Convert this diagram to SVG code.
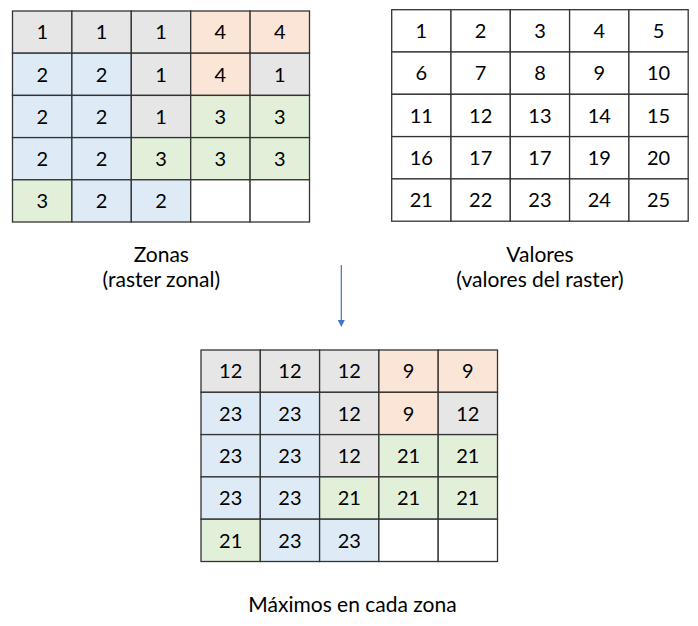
<svg xmlns="http://www.w3.org/2000/svg" width="698" height="626" viewBox="0 0 698 626">
<style>
rect{stroke:#333333;stroke-width:1.3}
.g{fill:#E7E6E6}.o{fill:#FBE5D6}.b{fill:#DEEBF7}.n{fill:#E2F0D9}.w{fill:#FFFFFF}
text{font-family:Lato,"Liberation Sans",sans-serif;fill:#000000;text-anchor:middle}
.d{font-size:20px}
.l{font-size:21px}
</style>
<rect width="698" height="626" style="fill:#fff;stroke:none"/>
<g id="zonas">
<rect class="g" x="12.5" y="11" width="59.4" height="42.2"/><rect class="g" x="71.9" y="11" width="59.4" height="42.2"/><rect class="g" x="131.3" y="11" width="59.4" height="42.2"/><rect class="o" x="190.7" y="11" width="59.4" height="42.2"/><rect class="o" x="250.1" y="11" width="59.4" height="42.2"/>
<rect class="b" x="12.5" y="53.2" width="59.4" height="42.2"/><rect class="b" x="71.9" y="53.2" width="59.4" height="42.2"/><rect class="g" x="131.3" y="53.2" width="59.4" height="42.2"/><rect class="o" x="190.7" y="53.2" width="59.4" height="42.2"/><rect class="g" x="250.1" y="53.2" width="59.4" height="42.2"/>
<rect class="b" x="12.5" y="95.4" width="59.4" height="42.2"/><rect class="b" x="71.9" y="95.4" width="59.4" height="42.2"/><rect class="g" x="131.3" y="95.4" width="59.4" height="42.2"/><rect class="n" x="190.7" y="95.4" width="59.4" height="42.2"/><rect class="n" x="250.1" y="95.4" width="59.4" height="42.2"/>
<rect class="b" x="12.5" y="137.6" width="59.4" height="42.2"/><rect class="b" x="71.9" y="137.6" width="59.4" height="42.2"/><rect class="n" x="131.3" y="137.6" width="59.4" height="42.2"/><rect class="n" x="190.7" y="137.6" width="59.4" height="42.2"/><rect class="n" x="250.1" y="137.6" width="59.4" height="42.2"/>
<rect class="n" x="12.5" y="179.8" width="59.4" height="42.2"/><rect class="b" x="71.9" y="179.8" width="59.4" height="42.2"/><rect class="b" x="131.3" y="179.8" width="59.4" height="42.2"/><rect class="w" x="190.7" y="179.8" width="59.4" height="42.2"/><rect class="w" x="250.1" y="179.8" width="59.4" height="42.2"/>
<text class="d" x="42.2" y="39.3">1</text><text class="d" x="101.6" y="39.3">1</text><text class="d" x="161" y="39.3">1</text><text class="d" x="220.4" y="39.3">4</text><text class="d" x="279.8" y="39.3">4</text>
<text class="d" x="42.2" y="81.5">2</text><text class="d" x="101.6" y="81.5">2</text><text class="d" x="161" y="81.5">1</text><text class="d" x="220.4" y="81.5">4</text><text class="d" x="279.8" y="81.5">1</text>
<text class="d" x="42.2" y="123.7">2</text><text class="d" x="101.6" y="123.7">2</text><text class="d" x="161" y="123.7">1</text><text class="d" x="220.4" y="123.7">3</text><text class="d" x="279.8" y="123.7">3</text>
<text class="d" x="42.2" y="165.9">2</text><text class="d" x="101.6" y="165.9">2</text><text class="d" x="161" y="165.9">3</text><text class="d" x="220.4" y="165.9">3</text><text class="d" x="279.8" y="165.9">3</text>
<text class="d" x="42.2" y="208.1">3</text><text class="d" x="101.6" y="208.1">2</text><text class="d" x="161" y="208.1">2</text>
<text class="l" x="161.3" y="262">Zonas</text>
<text class="l" x="161.3" y="287">(raster zonal)</text>
</g>
<g id="valores">
<rect class="w" x="391.7" y="9.7" width="59.3" height="42.3"/><rect class="w" x="451" y="9.7" width="59.3" height="42.3"/><rect class="w" x="510.3" y="9.7" width="59.3" height="42.3"/><rect class="w" x="569.6" y="9.7" width="59.3" height="42.3"/><rect class="w" x="628.9" y="9.7" width="59.3" height="42.3"/>
<rect class="w" x="391.7" y="52" width="59.3" height="42.3"/><rect class="w" x="451" y="52" width="59.3" height="42.3"/><rect class="w" x="510.3" y="52" width="59.3" height="42.3"/><rect class="w" x="569.6" y="52" width="59.3" height="42.3"/><rect class="w" x="628.9" y="52" width="59.3" height="42.3"/>
<rect class="w" x="391.7" y="94.3" width="59.3" height="42.3"/><rect class="w" x="451" y="94.3" width="59.3" height="42.3"/><rect class="w" x="510.3" y="94.3" width="59.3" height="42.3"/><rect class="w" x="569.6" y="94.3" width="59.3" height="42.3"/><rect class="w" x="628.9" y="94.3" width="59.3" height="42.3"/>
<rect class="w" x="391.7" y="136.6" width="59.3" height="42.3"/><rect class="w" x="451" y="136.6" width="59.3" height="42.3"/><rect class="w" x="510.3" y="136.6" width="59.3" height="42.3"/><rect class="w" x="569.6" y="136.6" width="59.3" height="42.3"/><rect class="w" x="628.9" y="136.6" width="59.3" height="42.3"/>
<rect class="w" x="391.7" y="178.9" width="59.3" height="42.3"/><rect class="w" x="451" y="178.9" width="59.3" height="42.3"/><rect class="w" x="510.3" y="178.9" width="59.3" height="42.3"/><rect class="w" x="569.6" y="178.9" width="59.3" height="42.3"/><rect class="w" x="628.9" y="178.9" width="59.3" height="42.3"/>
<text class="d" x="421.35" y="38.1">1</text><text class="d" x="480.65" y="38.1">2</text><text class="d" x="539.95" y="38.1">3</text><text class="d" x="599.25" y="38.1">4</text><text class="d" x="658.55" y="38.1">5</text>
<text class="d" x="421.35" y="80.4">6</text><text class="d" x="480.65" y="80.4">7</text><text class="d" x="539.95" y="80.4">8</text><text class="d" x="599.25" y="80.4">9</text><text class="d" x="658.55" y="80.4">10</text>
<text class="d" x="421.35" y="122.7">11</text><text class="d" x="480.65" y="122.7">12</text><text class="d" x="539.95" y="122.7">13</text><text class="d" x="599.25" y="122.7">14</text><text class="d" x="658.55" y="122.7">15</text>
<text class="d" x="421.35" y="165">16</text><text class="d" x="480.65" y="165">17</text><text class="d" x="539.95" y="165">17</text><text class="d" x="599.25" y="165">19</text><text class="d" x="658.55" y="165">20</text>
<text class="d" x="421.35" y="207.3">21</text><text class="d" x="480.65" y="207.3">22</text><text class="d" x="539.95" y="207.3">23</text><text class="d" x="599.25" y="207.3">24</text><text class="d" x="658.55" y="207.3">25</text>
<text class="l" x="540" y="262">Valores</text>
<text class="l" x="540" y="287">(valores del raster)</text>
</g>
<g id="maximos">
<rect class="g" x="201" y="350" width="59.3" height="42.3"/><rect class="g" x="260.3" y="350" width="59.3" height="42.3"/><rect class="g" x="319.6" y="350" width="59.3" height="42.3"/><rect class="o" x="378.9" y="350" width="59.3" height="42.3"/><rect class="o" x="438.2" y="350" width="59.3" height="42.3"/>
<rect class="b" x="201" y="392.3" width="59.3" height="42.3"/><rect class="b" x="260.3" y="392.3" width="59.3" height="42.3"/><rect class="g" x="319.6" y="392.3" width="59.3" height="42.3"/><rect class="o" x="378.9" y="392.3" width="59.3" height="42.3"/><rect class="g" x="438.2" y="392.3" width="59.3" height="42.3"/>
<rect class="b" x="201" y="434.6" width="59.3" height="42.3"/><rect class="b" x="260.3" y="434.6" width="59.3" height="42.3"/><rect class="g" x="319.6" y="434.6" width="59.3" height="42.3"/><rect class="n" x="378.9" y="434.6" width="59.3" height="42.3"/><rect class="n" x="438.2" y="434.6" width="59.3" height="42.3"/>
<rect class="b" x="201" y="476.9" width="59.3" height="42.3"/><rect class="b" x="260.3" y="476.9" width="59.3" height="42.3"/><rect class="n" x="319.6" y="476.9" width="59.3" height="42.3"/><rect class="n" x="378.9" y="476.9" width="59.3" height="42.3"/><rect class="n" x="438.2" y="476.9" width="59.3" height="42.3"/>
<rect class="n" x="201" y="519.2" width="59.3" height="42.3"/><rect class="b" x="260.3" y="519.2" width="59.3" height="42.3"/><rect class="b" x="319.6" y="519.2" width="59.3" height="42.3"/><rect class="w" x="378.9" y="519.2" width="59.3" height="42.3"/><rect class="w" x="438.2" y="519.2" width="59.3" height="42.3"/>
<text class="d" x="230.65" y="378.4">12</text><text class="d" x="289.95" y="378.4">12</text><text class="d" x="349.25" y="378.4">12</text><text class="d" x="408.55" y="378.4">9</text><text class="d" x="467.85" y="378.4">9</text>
<text class="d" x="230.65" y="420.7">23</text><text class="d" x="289.95" y="420.7">23</text><text class="d" x="349.25" y="420.7">12</text><text class="d" x="408.55" y="420.7">9</text><text class="d" x="467.85" y="420.7">12</text>
<text class="d" x="230.65" y="463">23</text><text class="d" x="289.95" y="463">23</text><text class="d" x="349.25" y="463">12</text><text class="d" x="408.55" y="463">21</text><text class="d" x="467.85" y="463">21</text>
<text class="d" x="230.65" y="505.3">23</text><text class="d" x="289.95" y="505.3">23</text><text class="d" x="349.25" y="505.3">21</text><text class="d" x="408.55" y="505.3">21</text><text class="d" x="467.85" y="505.3">21</text>
<text class="d" x="230.65" y="547.6">21</text><text class="d" x="289.95" y="547.6">23</text><text class="d" x="349.25" y="547.6">23</text>
<text class="l" x="352.5" y="611.5">Máximos en cada zona</text>
</g>
<g id="connectors">
<line x1="341.3" y1="265" x2="341.3" y2="320" stroke="#4472C4" stroke-width="1.2"/>
<path d="M337.8,320 L344.8,320 L341.3,327 Z" fill="#4472C4"/>
</g>
</svg>
